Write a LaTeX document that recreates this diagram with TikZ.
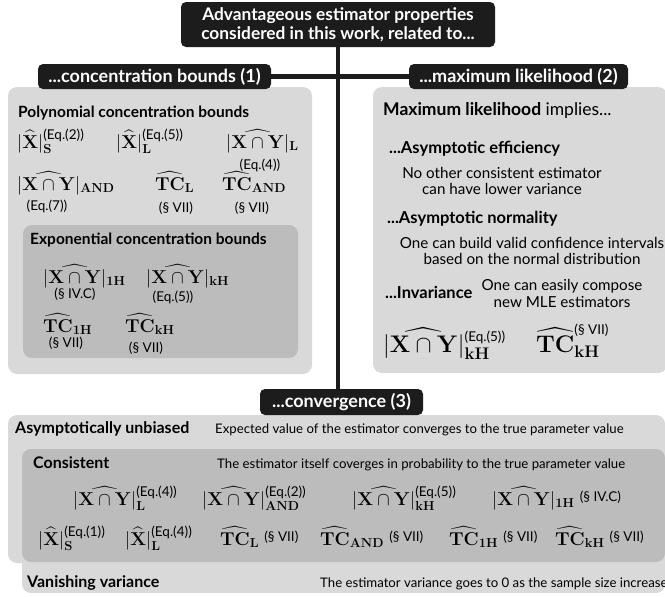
\RequirePackage{fix-cm}
\documentclass[tikz,border=0pt]{standalone}
\usepackage{exscale}
\usepackage[no-math]{fontspec}
\setmainfont{Lato}
\definecolor{lightp}{RGB}{217,217,217}
\definecolor{darkp}{RGB}{188,188,188}
\definecolor{blk}{RGB}{28,28,28}
\newcommand{\myXY}{|\widehat{\mathbf{X}\cap\mathbf{Y}}|}
\newcommand{\myX}{|\widehat{\mathbf{X}}|}
\newcommand{\myTC}{\widehat{\mathbf{TC}}}
\newcommand{\mysup}[1]{\mbox{\fontsize{13.5}{14}\selectfont #1}}
\newcommand{\mysec}[1]{\;\raisebox{4pt}{\fontsize{13.5}{14}\selectfont #1}}
\tikzset{
  hdr/.style={fill=blk, text=white, rounded corners=5pt, inner sep=0pt, align=center,
    font=\fontsize{18}{19}\selectfont\bfseries},
  conn/.style={line width=4.5pt, draw=blk},
  tl/.style={inner sep=0pt, anchor=base west},
  bt/.style={tl, font=\fontsize{15.5}{18}\selectfont\bfseries},
  st/.style={tl, font=\fontsize{16}{18}\selectfont\bfseries},
  rst/.style={tl, font=\fontsize{16.5}{18}\selectfont\bfseries},
  dsc/.style={inner sep=0pt, align=center, font=\fontsize{13.2}{16}\selectfont},
  rdsc/.style={inner sep=0pt, align=center, font=\fontsize{15.2}{16.5}\selectfont},
  mth/.style={inner sep=0pt, anchor=base west, font=\fontsize{18.6}{21}\selectfont},
  mthb/.style={inner sep=0pt, anchor=base west, font=\fontsize{24}{27}\selectfont},
  lab/.style={inner sep=0pt, font=\fontsize{13.5}{14}\selectfont},
}
\begin{document}
\begin{tikzpicture}[x=1pt,y=-1pt]
\useasboundingbox (0,0) rectangle (665,597);
\fill[white] (0,0) rectangle (665,597);
% panels
\fill[lightp, rounded corners=9pt] (8,87) rectangle (312,374);
\fill[darkp, rounded corners=9pt] (23,225) rectangle (298,358);
\fill[lightp, rounded corners=9pt] (373,87) rectangle (667,373);
\fill[lightp, rounded corners=9pt] (8,415) rectangle (665,563);
\fill[lightp, rounded corners=9pt] (22,449) rectangle (665,593);
\fill[darkp, rounded corners=9pt] (22,449) rectangle (665,562);
% headers
\node[hdr, minimum width=314pt, minimum height=45pt, font=\fontsize{17.3}{19}\selectfont\bfseries] (title) at (338,24.5) {Advantageous estimator properties\\considered in this work, related to...};
\node[hdr, minimum width=233pt, minimum height=25pt] (conc) at (154.5,76.5) {...concentration bounds (1)};
\node[hdr, minimum width=219pt, minimum height=25pt] (ml) at (518.5,76.5) {...maximum likelihood (2)};
\node[hdr, minimum width=163pt, minimum height=26pt] (conv) at (341.5,402) {...convergence (3)};
\draw[conn] (title.south) -- (title.south |- conv.north);
\draw[conn] (conc.east) -- (ml.west);
% left panel
\node[bt] (poly) at (18,117) {Polynomial concentration bounds};
\node[mth] (p1) at (17,148) {$\myX_{\mathbf{S}}^{\mysup{(Eq.(2))}}$};
\node[mth] (p2) at (116,148) {$\myX_{\mathbf{L}}^{\mysup{(Eq.(5))}}$};
\node[mth] (p3) at (226,148) {$\myXY_{\mathbf{L}}$};
\node[lab] (p3l) at (260,165) {(Eq.(4))};
\node[mth] (p4) at (17,190) {$\myXY_{\mathbf{AND}}$};
\node[lab] (p4l) at (47,206) {(Eq.(7))};
\node[mth] (p5) at (155,190) {$\myTC_{\mathbf{L}}$};
\node[lab] (p5l) at (176,208) {(\S{} VII)};
\node[mth] (p6) at (222,190) {$\myTC_{\mathbf{AND}}$};
\node[lab] (p6l) at (252,208) {(\S{} VII)};
\node[bt] (expo) at (30,244) {Exponential concentration bounds};
\node[mth] (e1) at (43,283) {$\myXY_{\mathbf{1H}}$};
\node[lab] (e1l) at (75,294) {(\S{} IV.C)};
\node[mth] (e2) at (146,283) {$\myXY_{\mathbf{kH}}$};
\node[lab] (e2l) at (173,297) {(Eq.(5))};
\node[mth] (e3) at (43,332) {$\myTC_{\mathbf{1H}}$};
\node[lab] (e3l) at (66,343) {(\S{} VII)};
\node[mth] (e4) at (125,332) {$\myTC_{\mathbf{kH}}$};
\node[lab] (e4l) at (146,348) {(\S{} VII)};
% right panel
\node[tl, font=\fontsize{17.5}{18}\selectfont] (mlh) at (383,115) {\textbf{Maximum likelihood} implies...};
\node[rst] (eff) at (389,153) {...Asymptotic efficiency};
\node[rdsc] (effd) at (502,181) {No other consistent estimator\\can have lower variance};
\node[rst] (nrm) at (387,223) {...Asymptotic normality};
\node[rdsc] (nrmd) at (532,251) {One can build valid confidence intervals\\based on the normal distribution};
\node[rst] (inv) at (385,298) {...Invariance};
\node[rdsc] (invd) at (562,293.5) {One can easily compose\\new MLE estimators};
\node[mthb] (r1) at (383,352) {$\myXY_{\mathbf{kH}}^{\mysup{(Eq.(5))}}$};
\node[mthb] (r2) at (536,352) {${\myTC_{\mathbf{kH}}}^{\mysup{(\S{} VII)}}$};
% bottom
\node[st] (au) at (15,433) {Asymptotically unbiased};
\node[dsc, anchor=base west] (aud) at (215,433) {Expected value of the estimator converges to the true parameter value};
\node[st] (cs) at (33,468) {Consistent};
\node[dsc, anchor=base west] (csd) at (217,468) {The estimator itself coverges in probability to the true parameter value};
\node[mth] (b1) at (73,505) {$\myXY_{\mathbf{L}}^{\mysup{(Eq.(4))}}$};
\node[mth] (b2) at (202,505) {$\myXY_{\mathbf{AND}}^{\mysup{(Eq.(2))}}$};
\node[mth] (b3) at (352,505) {$\myXY_{\mathbf{kH}}^{\mysup{(Eq.(5))}}$};
\node[mth] (b4) at (492,505) {$\myXY_{\mathbf{1H}}\mysec{(\S{} IV.C)}$};
\node[mth] (c1) at (38,545) {$\myX_{\mathbf{S}}^{\mysup{(Eq.(1))}}$};
\node[mth] (c2) at (125,545) {$\myX_{\mathbf{L}}^{\mysup{(Eq.(4))}}$};
\node[mth] (c3) at (220,545) {$\myTC_{\mathbf{L}}\mysec{(\S{} VII)}$};
\node[mth] (c4) at (320,545) {$\myTC_{\mathbf{AND}}\mysec{(\S{} VII)}$};
\node[mth] (c5) at (449,545) {$\myTC_{\mathbf{1H}}\mysec{(\S{} VII)}$};
\node[mth] (c6) at (555,545) {$\myTC_{\mathbf{kH}}\mysec{(\S{} VII)}$};
\node[st] (vv) at (27,587) {Vanishing variance};
\node[dsc, anchor=base west] (vvd) at (320,587) {The estimator variance goes to 0 as the sample size increases};
\end{tikzpicture}
\end{document}
